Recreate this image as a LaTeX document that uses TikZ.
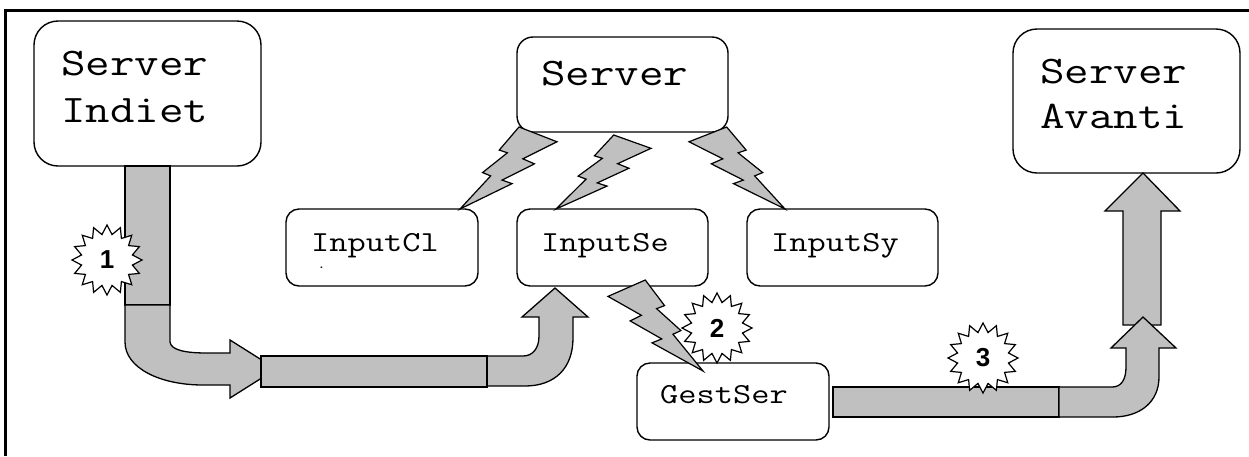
\documentclass[tikz,border=0pt]{standalone}
\usepackage{fontspec}
\setmainfont{Liberation Sans}
\newfontfamily\courlike{Latin Modern Mono}[FakeStretch=1.22]
\usetikzlibrary{shapes.geometric}
\definecolor{blkgray}{HTML}{C0C0C0}
\newcommand\boltshape{(0.3922,0) -- (0.5954,0.2815) -- (0.5116,0.3147) -- (0.7675,0.5559) -- (0.6837,0.5962) -- (1,1) -- (0.4635,0.6905) -- (0.5658,0.6475) -- (0.2325,0.4493) -- (0.3519,0.3881) -- (0,0.1801) -- cycle}
\tikzset{
  box/.style={draw, line width=1.4pt, fill=white, rounded corners=#1, inner sep=0pt},
  bigtxt/.style={anchor=base west, inner sep=0pt, font=\courlike\fontsize{39}{46}\selectfont},
  smalltxt/.style={anchor=base west, inner sep=0pt, font=\courlike\fontsize{29}{34}\selectfont},
  blk/.style={draw, line width=1.3pt, fill=blkgray, line join=miter},
  boltstyle/.style={draw, line width=1.2pt, fill=blkgray, line join=miter},
  burst/.style={star, star points=16, star point ratio=1.35, minimum size=70pt, inner sep=0pt, draw, line width=1.2pt, fill=white, font=\bfseries\fontsize{26}{30}\selectfont}
}
\begin{document}
\begin{tikzpicture}[x=1pt,y=-1pt]
\useasboundingbox (0,0) rectangle (1249,456);
% frame
\draw[line width=2.5pt] (5.5,456) -- (5.5,10.5) -- (1249,10.5);

% boxes
\node[box=24pt, minimum width=227pt, minimum height=145pt] (indiet) at (147.5,93.5) {};
\node[box=16pt, minimum width=211pt, minimum height=95pt] (server) at (622.5,84.5) {};
\node[box=13pt, minimum width=192pt, minimum height=77pt] (inputcl) at (382,247.5) {};
\node[box=13pt, minimum width=191pt, minimum height=77pt] (inputse) at (612.5,247.5) {};
\node[box=13pt, minimum width=191pt, minimum height=77pt] (inputsy) at (842.5,247.5) {};
\node[box=13pt, minimum width=192pt, minimum height=77pt] (gestser) at (733,401.5) {};
\node[box=24pt, minimum width=227pt, minimum height=144pt] (avanti) at (1126.5,101) {};

% texts
\node[bigtxt] (tIndiet1) at (61,75) {Server};
\node[bigtxt] (tIndiet2) at (61,122) {Indiet};
\node[bigtxt] (tServer) at (541,85) {Server};
\node[bigtxt] (tAvanti1) at (1040,83) {Server};
\node[bigtxt] (tAvanti2) at (1040,128) {Avanti};
\node[smalltxt] (tInputCl) at (311,251) {InputCl};
\node[anchor=base west, inner sep=0pt, font=\courlike\fontsize{14}{16}\selectfont] (tInputClDot) at (317,268) {.};
\node[smalltxt] (tInputSe) at (541,251) {InputSe};
\node[smalltxt] (tInputSy) at (771,251) {InputSy};
\node[smalltxt] (tGestSer) at (660,403) {GestSer};

% arrow 1
\draw[blk] (125,166) rectangle (170,305);
\draw[blk] (261,356) rectangle (487,387);
\draw[blk] (125,305) -- (170,305) -- (170,342) .. controls (171,350) and (185,353) .. (207,353) -- (230,353) -- (230,340) -- (276,369) -- (230,398) -- (230,385) -- (203,385) .. controls (160,385) and (125,368) .. (125,342) -- cycle;
% arrow 2
\draw[blk] (487,356) -- (523,356) .. controls (533,356) and (539,348) .. (539,336) -- (539,317) -- (522,317) -- (555,288) -- (588,317) -- (573,317) -- (573,338) .. controls (573,368) and (555,386) .. (525,386) -- (487,386) -- cycle;
\draw[blk] (261,356) rectangle (487,387);
% arrow 3
\draw[blk] (833,387) rectangle (1059,417);
\draw[blk] (1123,325) -- (1123,211) -- (1105,211) -- (1143,173) -- (1180,211) -- (1161,211) -- (1161,325) -- cycle;
\draw[blk] (1059,387) -- (1112,387) .. controls (1121,387) and (1126,380) .. (1126,367) -- (1126,348) -- (1111,348) -- (1143,317) -- (1176,348) -- (1159,348) -- (1159,377) .. controls (1159,402) and (1140,417) .. (1113,417) -- (1059,417) -- cycle;

% lightning bolts
\begin{scope}[shift={(557,127)}, x=-97pt, y=-82pt]
  \draw[boltstyle] \boltshape;
\end{scope}
\begin{scope}[shift={(651,135)}, x=-95pt, y=-74pt]
  \draw[boltstyle] \boltshape;
\end{scope}
\begin{scope}[shift={(689,127)}, x=96pt, y=-82pt]
  \draw[boltstyle] \boltshape;
\end{scope}
\begin{scope}[shift={(608,280)}, x=95pt, y=-91pt]
  \draw[boltstyle] \boltshape;
\end{scope}

% bursts
\node[burst] (b1) at (107,260) {1};
\node[burst] (b2) at (717,328) {2};
\node[burst] (b3) at (983,358) {3};
\end{tikzpicture}
\end{document}
